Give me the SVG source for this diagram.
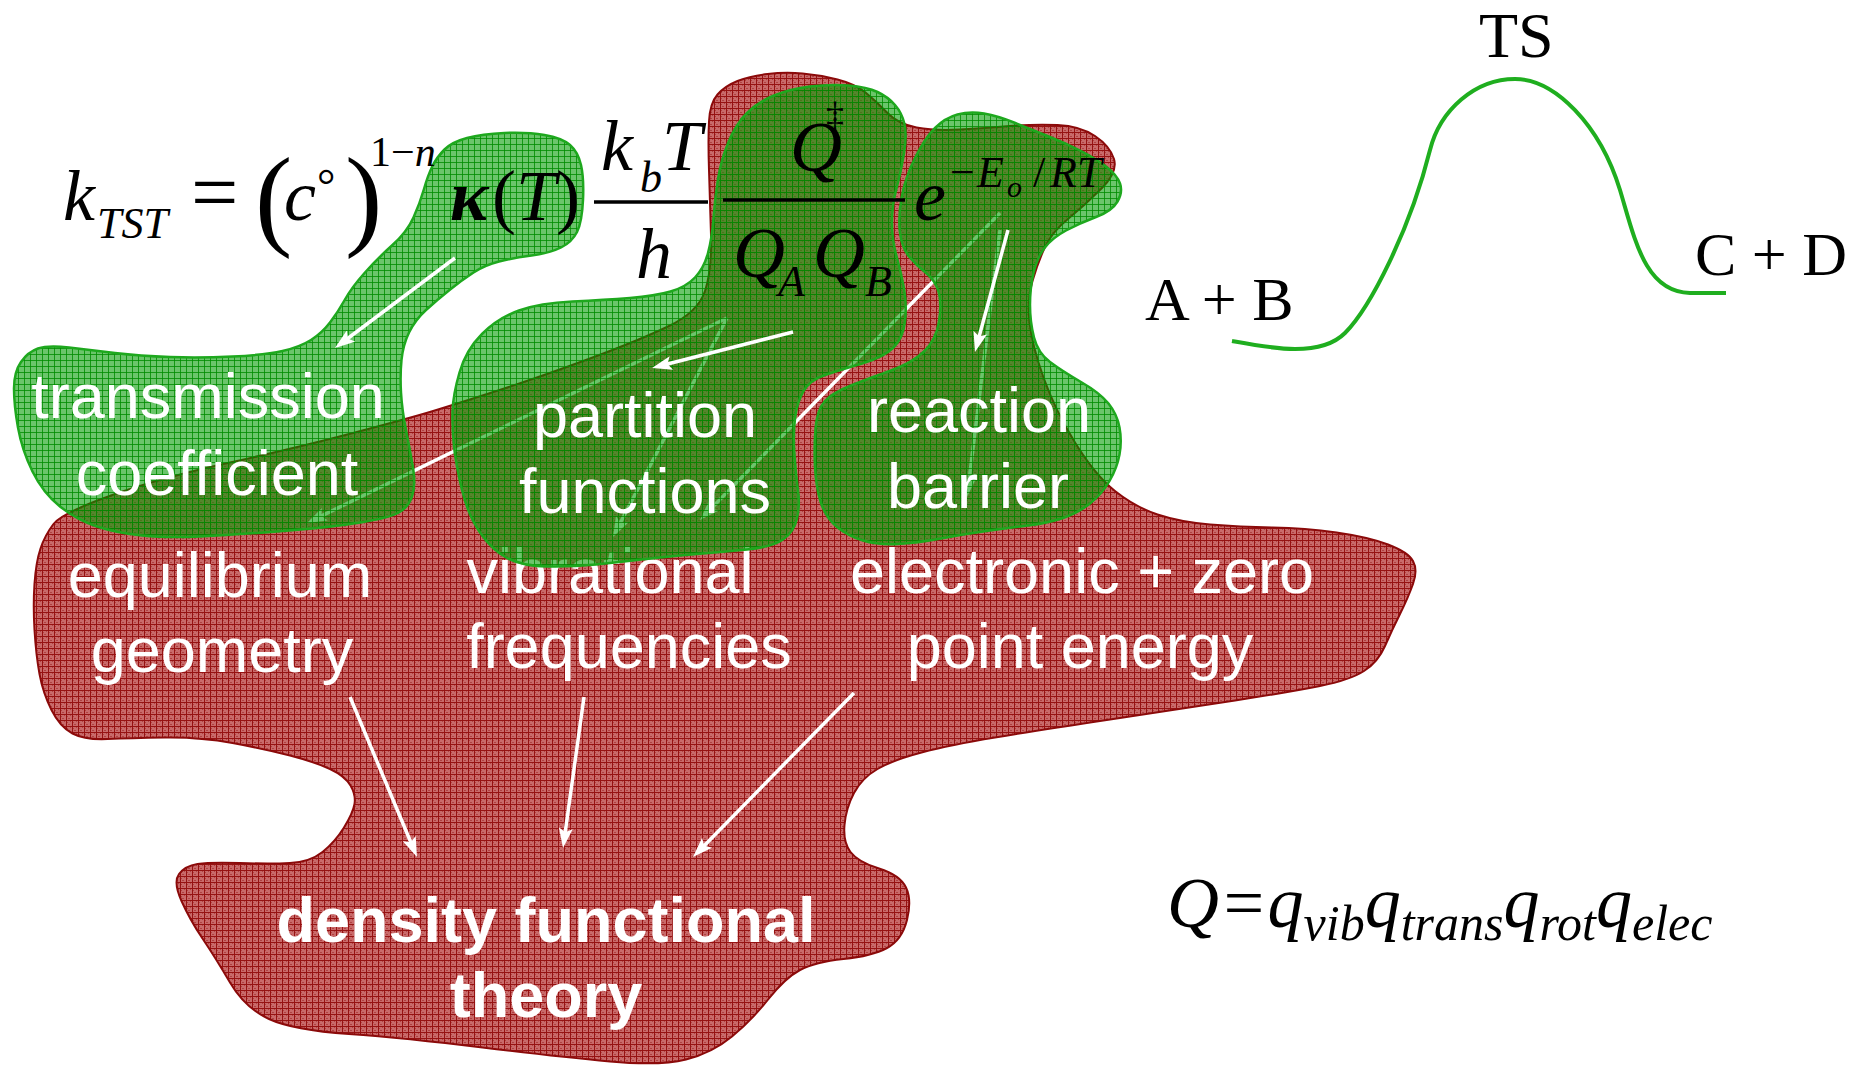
<svg xmlns="http://www.w3.org/2000/svg" width="1852" height="1068" viewBox="0 0 1852 1068">
<defs>
  <pattern id="pr" width="6" height="6" patternUnits="userSpaceOnUse">
    <rect width="6" height="6" fill="#c96a6a"/>
    <path d="M1,2h1v1h-1zM3,4h1v1h-1zM4,1h1v1h-1zM2,4h1v1h-1z" fill="#b04040"/>
    <path d="M0,0.5H6M0.5,0V6" stroke="#961212" stroke-width="1"/>
  </pattern>
  <pattern id="pg" width="6" height="6" patternUnits="userSpaceOnUse">
    <rect width="6" height="6" fill="#009c00" fill-opacity="0.58"/>
    <path d="M0,0.5H6M0.5,0V6" stroke="#008c00" stroke-opacity="0.8" stroke-width="1"/>
  </pattern>
  <marker id="ah" markerUnits="userSpaceOnUse" markerWidth="20" markerHeight="14" viewBox="0 0 20 14" refX="10" refY="7" orient="auto">
    <path d="M0,0 L20,7 L0,14 L4,7 Z" fill="#ffffff"/>
  </marker>
</defs>
<style>
  .lbl { font-family: "Liberation Sans", Arial, sans-serif; font-size: 63px; fill: #ffffff; text-anchor: middle; }
  .bold { font-weight: bold; }
  .math { font-family: "Liberation Serif", "Times New Roman", serif; fill: #000000; }
  .it { font-style: italic; }
  .arrow { stroke: #ffffff; stroke-width: 3.5; fill: none; marker-end: url(#ah); }
  .red { fill: url(#pr); stroke: #8b0a0a; stroke-width: 2; }
  .green { fill: url(#pg); stroke: #1ea81e; stroke-width: 2.5; }
  .bar { stroke: #000000; stroke-width: 3.5; }
</style>
<rect width="1852" height="1068" fill="#ffffff"/>

<g id="dft">
  <path class="red" d="M709,121.5 Q710,103 717.5,94.5 Q725,86 737.5,81 Q750,76 767.5,74 Q785,72 802.5,73.5 Q820,75 837.5,79.5 Q855,84 865.5,92.5 Q876,101 887,112.5 Q898,124 916.5,127.5 Q935,131 960,129.5 Q985,128 1010,126 Q1035,124 1057.5,125 Q1080,126 1095,136 Q1110,146 1114,159 Q1118,172 1101.5,188.5 Q1085,205 1068.5,218.5 Q1052,232 1045,247 Q1038,262 1032.5,281 Q1027,300 1029.5,322.5 Q1032,345 1043.5,377.5 Q1055,410 1075,442.5 Q1095,475 1115,491 Q1135,507 1157.5,514.5 Q1180,522 1210,524.5 Q1240,527 1272.5,527.5 Q1305,528 1336.5,532.5 Q1368,537 1388,544.5 Q1408,552 1413,561 Q1418,570 1413,584 Q1408,598 1400,614 Q1392,630 1385,646 Q1378,662 1364,671 Q1350,680 1320,686 Q1290,692 1235,700.5 Q1180,709 1110,719.5 Q1040,730 995,737.5 Q950,745 921.5,752.5 Q893,760 877.5,769 Q862,778 854,793 Q846,808 844.5,825 Q843,842 850.5,852 Q858,862 879,868.5 Q900,875 906,887.5 Q912,900 907,920 Q902,940 887,948 Q872,956 843.5,959 Q815,962 800,970 Q785,978 768.5,999 Q752,1020 732,1036.5 Q712,1053 686,1059.5 Q660,1066 610,1061.5 Q560,1057 482.5,1047.5 Q405,1038 349,1034 Q293,1030 269,1019 Q245,1008 230,982.5 Q215,957 202.5,938.5 Q190,920 181.5,901 Q173,882 179,874 Q185,866 197.5,864 Q210,862 240,863 Q270,864 290,863 Q310,862 322.5,852 Q335,842 344,827.5 Q353,813 354.5,804 Q356,795 350.5,785.5 Q345,776 330,769 Q315,762 290,755.5 Q265,749 232.5,743 Q200,737 165,737.5 Q130,738 107.5,739 Q85,740 72.5,733.5 Q60,727 51.5,710 Q43,693 39.5,674 Q36,655 34.5,630 Q33,605 34.5,583.5 Q36,562 40.5,548.5 Q45,535 53.5,524 Q62,513 111,495.5 Q160,478 230,462.5 Q300,447 355,432.5 Q410,418 431.5,411.5 Q453,405 496.5,391 Q540,377 590,358.5 Q640,340 669,326 Q698,312 705,291 Q712,270 711,235 Q710,200 709,170 Q708,140 709,121.5 Z"/>
  <text class="lbl bold" x="546" y="942">density functional</text>
  <text class="lbl bold" x="546" y="1017">theory</text>
</g>

<g id="equilibrium-geometry">
  <text class="lbl" x="220" y="597">equilibrium</text>
  <text class="lbl" x="222" y="672">geometry</text>
</g>
<g id="vibrational-frequencies">
  <text class="lbl" x="610" y="593">vibrational</text>
  <text class="lbl" x="629" y="668">frequencies</text>
</g>
<g id="electronic-zero-point-energy">
  <text class="lbl" x="1082" y="593">electronic + zero</text>
  <text class="lbl" x="1080" y="668">point energy</text>
</g>

<g id="connectors-behind">
  <line class="arrow" x1="1000" y1="213" x2="707" y2="512.8"/>
  <line class="arrow" x1="727" y1="318" x2="316" y2="518.6"/>
  <line class="arrow" x1="727" y1="318" x2="617.6" y2="528.1"/>
  <line class="arrow" x1="1000" y1="230" x2="968.2" y2="487.1"/>
  <line class="arrow" x1="350" y1="697" x2="413.1" y2="847.8"/>
  <line class="arrow" x1="584" y1="697" x2="564.4" y2="838.1"/>
  <line class="arrow" x1="854" y1="693" x2="700" y2="849.9"/>
</g>

<g id="transmission-coefficient">
  <path class="green" d="M432.5,166 Q437,157 444.5,149.5 Q452,142 467,138 Q482,134 504.5,133 Q527,132 544.5,135 Q562,138 570,145 Q578,152 581,165 Q584,178 583,200 Q582,222 577,232 Q572,242 561,247.5 Q550,253 531.5,255.5 Q513,258 499,261.5 Q485,265 473.5,272.5 Q462,280 449.5,290 Q437,300 426,310 Q415,320 409,332.5 Q403,345 401.5,360 Q400,375 401,392.5 Q402,410 406,430 Q410,450 413,467.5 Q416,485 412,496.5 Q408,508 398,513 Q388,518 360.5,522.5 Q333,527 283,531 Q233,535 200,536.5 Q167,538 142,535.5 Q117,533 97,526.5 Q77,520 60,506.5 Q43,493 32.5,471.5 Q22,450 18,427.5 Q14,405 14,388.5 Q14,372 21,362 Q28,352 38,348.5 Q48,345 69,347.5 Q90,350 115,353 Q140,356 170,357 Q200,358 232.5,356.5 Q265,355 282.5,351 Q300,347 311,340 Q322,333 330,322.5 Q338,312 345,299.5 Q352,287 365,272.5 Q378,258 392.5,245 Q407,232 413.5,217.5 Q420,203 424,189 Q428,175 432.5,166 Z"/>
  <text class="lbl" x="208" y="418">transmission</text>
  <text class="lbl" x="217" y="495">coefficient</text>
</g>

<g id="partition-functions">
  <path class="green" d="M452.5,411.5 Q453,395 459.5,372.5 Q466,350 482,334 Q498,318 519,310.5 Q540,303 572.5,301.5 Q605,300 630,298 Q655,296 670.5,291.5 Q686,287 695,277.5 Q704,268 708,253 Q712,238 713.5,218 Q715,198 718,179 Q721,160 728.5,142 Q736,124 747,113 Q758,102 774,95.5 Q790,89 810,86.5 Q830,84 848.5,85.5 Q867,87 877.5,92 Q888,97 895,105 Q902,113 904.5,124 Q907,135 904,153.5 Q901,172 896.5,188.5 Q892,205 892,222.5 Q892,240 896.5,256 Q901,272 904,288.5 Q907,305 905,321.5 Q903,338 893.5,347.5 Q884,357 862,363.5 Q840,370 825,375 Q810,380 803.5,391 Q797,402 795,418.5 Q793,435 794.5,455 Q796,475 798,490 Q800,505 797,518.5 Q794,532 783,539.5 Q772,547 747,549.5 Q722,552 697,554 Q672,556 646,559 Q620,562 596,564.5 Q572,567 547,566.5 Q522,566 507,558 Q492,550 480,532.5 Q468,515 462,490 Q456,465 454,446.5 Q452,428 452.5,411.5 Z"/>
  <text class="lbl" x="645" y="437">partition</text>
  <text class="lbl" x="645" y="513">functions</text>
</g>

<g id="reaction-barrier">
  <path class="green" d="M915,158 Q925,138 935,128 Q945,118 957.5,114.5 Q970,111 984,113.5 Q998,116 1014,122.5 Q1030,129 1047.5,136 Q1065,143 1080,150.5 Q1095,158 1106,166.5 Q1117,175 1120,183.5 Q1123,192 1117.5,201.5 Q1112,211 1096,217 Q1080,223 1066,230.5 Q1052,238 1044.5,248 Q1037,258 1033.5,273 Q1030,288 1030,305 Q1030,322 1034,337.5 Q1038,353 1050,362 Q1062,371 1081,382 Q1100,393 1108.5,403.5 Q1117,414 1119.5,427.5 Q1122,441 1119.5,454.5 Q1117,468 1109.5,481 Q1102,494 1090,503.5 Q1078,513 1063,518 Q1048,523 1028,525.5 Q1008,528 986.5,531 Q965,534 941,538.5 Q917,543 897.5,544 Q878,545 863,540.5 Q848,536 837,527 Q826,518 821,503 Q816,488 815,467.5 Q814,447 815.5,428.5 Q817,410 824.5,401.5 Q832,393 851,385.5 Q870,378 891,370.5 Q912,363 924,351.5 Q936,340 939,321.5 Q942,303 938.5,291.5 Q935,280 925.5,272.5 Q916,265 909,256.5 Q902,248 900,233 Q898,218 901.5,198 Q905,178 915,158 Z"/>
  <text class="lbl" x="979" y="432">reaction</text>
  <text class="lbl" x="978" y="508">barrier</text>
</g>

<g id="connectors">
  <line class="arrow" x1="455" y1="258" x2="343" y2="342"/>
  <line class="arrow" x1="793" y1="332" x2="661.7" y2="365.5"/>
  <line class="arrow" x1="1008" y1="230" x2="977.6" y2="342.3"/>
</g>

<g id="rate-equation" class="math">
  <text class="it" x="63" y="220" font-size="72">k</text>
  <text class="it" x="97" y="238" font-size="44">TST</text>
  <text x="191" y="221" font-size="84">=</text>
  <text x="255" y="235" font-size="112">(</text>
  <text class="it" x="284" y="220" font-size="72">c</text>
  <text x="317" y="201" font-size="46">°</text>
  <text x="345" y="235" font-size="112">)</text>
  <text x="370" y="166" font-size="42">1−<tspan class="it">n</tspan></text>
  <text class="it" x="450" y="220" font-size="72" font-weight="bold">κ</text>
  <text x="492" y="220" font-size="72">(<tspan class="it">T</tspan>)</text>
  <line class="bar" x1="594" y1="202" x2="708" y2="202"/>
  <text class="it" x="601" y="170" font-size="72">k</text>
  <text class="it" x="640" y="192" font-size="44">b</text>
  <text class="it" x="662" y="170" font-size="72">T</text>
  <text class="it" x="636" y="278" font-size="72">h</text>
  <line class="bar" x1="723" y1="200" x2="905" y2="200"/>
  <text class="it" x="790" y="171" font-size="72">Q</text>
  <text x="826" y="127" font-size="36">‡</text>
  <text class="it" x="733" y="277" font-size="72">Q</text>
  <text class="it" x="778" y="296" font-size="44">A</text>
  <text class="it" x="813" y="277" font-size="72">Q</text>
  <text class="it" x="865" y="296" font-size="44">B</text>
  <text class="it" x="914" y="220" font-size="72">e</text>
  <text x="950" y="187" font-size="44">−</text>
  <text class="it" x="977" y="187" font-size="44">E</text>
  <text class="it" x="1007" y="197" font-size="30">o</text>
  <text x="1033" y="187" font-size="44">/</text>
  <text class="it" x="1050" y="187" font-size="44">RT</text>
</g>

<g id="energy-profile">
  <path d="M1232,341 C1270,348 1320,358 1345,333 C1370,308 1410,230 1430,150 C1440,110 1475,79 1515,79 C1555,79 1600,125 1620,190 C1635,240 1645,292 1690,293 L1726,293" fill="none" stroke="#1fae1f" stroke-width="4"/>
  <text class="math" x="1479" y="57" font-size="64">TS</text>
  <text class="math" x="1145" y="320" font-size="62">A + B</text>
  <text class="math" x="1695" y="275" font-size="62">C + D</text>
</g>

<g id="partition-product" class="math">
  <text class="it" x="1167" y="927" font-size="72">Q=q<tspan font-size="50" dy="13">vib</tspan><tspan dy="-13">q</tspan><tspan font-size="50" dy="13">trans</tspan><tspan dy="-13">q</tspan><tspan font-size="50" dy="13">rot</tspan><tspan dy="-13">q</tspan><tspan font-size="50" dy="13">elec</tspan></text>
</g>
</svg>
